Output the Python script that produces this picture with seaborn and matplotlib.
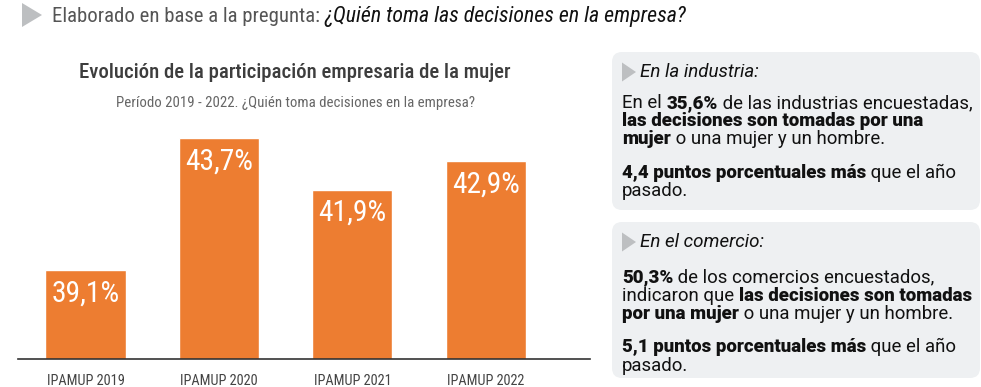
import matplotlib
matplotlib.use("Agg")
import matplotlib.pyplot as plt
import seaborn as sns
from matplotlib import font_manager
from matplotlib.patches import FancyBboxPatch, Polygon

# ---- data ----
categories = ["IPAMUP 2019", "IPAMUP 2020", "IPAMUP 2021", "IPAMUP 2022"]
values = [39.1, 43.7, 41.9, 42.9]

header_plain = "Elaborado en base a la pregunta: "
header_italic = "¿Quién toma las decisiones en la empresa?"
title = "Evolución de la participación empresaria de la mujer"
subtitle = "Período 2019 - 2022. ¿Quién toma decisiones en la empresa?"

industria_head = "En la industria:"
industria_lines = [
    [("En el ", "normal"), ("35,6%", "heavy"), (" de las industrias encuestadas,", "normal")],
    [("las decisiones son tomadas por una", "heavy")],
    [("mujer", "heavy"), (" o una mujer y un hombre.", "normal")],
    [("4,4 puntos porcentuales más", "heavy"), (" que el año", "normal")],
    [("pasado.", "normal")],
]

comercio_head = "En el comercio:"
comercio_lines = [
    [("50,3%", "heavy"), (" de los comercios encuestados,", "normal")],
    [("indicaron que ", "normal"), ("las decisiones son tomadas", "heavy")],
    [("por una mujer", "heavy"), (" o una mujer y un hombre.", "normal")],
    [("5,1 puntos porcentuales más", "heavy"), (" que el año", "normal")],
    [("pasado.", "normal")],
]

ORANGE = "#ED7D31"
BOX = "#EEF0F2"
ARROW = "#BDBFC1"

sns.set_style("white")
installed = {f.name for f in font_manager.fontManager.ttflist}
condensed = {f.name for f in font_manager.fontManager.ttflist
             if str(f.stretch) in ("condensed", "semi-condensed", "extra-condensed")}
NARROW = "Roboto"
STRETCH = "normal"
for cand in ["Roboto Condensed", "Liberation Sans Narrow", "Open Sans Condensed"]:
    if cand in installed:
        NARROW = cand
        break
else:
    for cand in ["Roboto", "Open Sans", "DejaVu Sans", "Noto Sans"]:
        if cand in condensed:
            NARROW, STRETCH = cand, "condensed"
            break
NARROW_F = [NARROW, "DejaVu Sans"]
BODY = ["Roboto", "DejaVu Sans"]
plt.rcParams["font.family"] = NARROW_F
plt.rcParams["font.stretch"] = STRETCH

fig = plt.figure(figsize=(9.81, 3.87), dpi=100)

# overlay in pixel coordinates for the text panels
ov = fig.add_axes([0, 0, 1, 1], zorder=0)
ov.set_xlim(0, 981)
ov.set_ylim(387, 0)
ov.set_axis_off()

renderer = fig.canvas.get_renderer()


def fit(t, width):
    # shrink/grow a text so that it spans the width
    w = t.get_window_extent(renderer).width
    t.set_fontsize(t.get_fontsize() * width / w)


def rich_line(x, y, parts, size, family, color="#111111", style="normal"):
    for s, w in parts:
        t = ov.text(x, y, s, fontsize=size, fontweight=w, family=family,
                    color=color, style=style, va="baseline", ha="left")
        x += t.get_window_extent(renderer).width
    return x


def arrow(x, y, w, h):
    ov.add_patch(Polygon([(x, y - h / 2), (x, y + h / 2), (x + w, y)],
                         closed=True, color=ARROW, lw=0))


# header
arrow(22, 15, 20, 24)
h1 = ov.text(52, 22, header_plain, fontsize=14.5, family=NARROW_F,
             color="#555555", va="baseline")
fit(h1, 272)
h2 = ov.text(52 + 272, 22, header_italic, fontsize=14.5, family=NARROW_F,
             style="italic", color="#111111", va="baseline")
fit(h2, 363)

# chart title
t1 = ov.text(295, 73, title, fontsize=17, fontweight="medium", family=NARROW_F,
             color="#3d3d3d", ha="center", va="center")
fit(t1, 434)
t2 = ov.text(295, 103, subtitle, fontsize=10.5, family=NARROW_F,
             color="#666666", ha="center", va="center")
fit(t2, 362)

# side panels
panels = [
    (52, 158, 72, industria_head, industria_lines, [108, 126, 144, 178, 196]),
    (222, 156, 242, comercio_head, comercio_lines, [282, 301, 319, 352, 371]),
]
for top, height, head_y, head, lines, ys in panels:
    ov.add_patch(FancyBboxPatch((612, top), 368, height,
                                boxstyle="round,pad=0,rounding_size=10",
                                fc=BOX, ec="none"))
    arrow(622, head_y, 14, 19)
    ov.text(640, head_y, head, fontsize=13.5, family=BODY, style="italic",
            color="#111111", va="center")
    for parts, y in zip(lines, ys):
        rich_line(622, y, parts, 13.4, BODY)

# bar chart
ax = fig.add_axes([18 / 981, 28 / 387, 572 / 981, 239 / 387], zorder=1)
ax.patch.set_alpha(0)
sns.barplot(x=categories, y=values, color=ORANGE, width=0.6, saturation=1,
            ax=ax)
ax.set_ylim(36, 36 + 239 / 28.7)
ax.set_xlim(-0.506, 3.78)
for i, v in enumerate(values):
    lab = ax.text(i, v - 0.32, f"{v:.1f}".replace(".", ",") + "%", ha="center",
                  va="top", color="white", fontsize=23, family=NARROW_F)
    w = lab.get_window_extent(renderer).width
    if w > 68:
        lab.set_fontsize(23 * 68 / w)
sns.despine(ax=ax, left=True)
ax.spines["bottom"].set_color("#333333")
ax.spines["bottom"].set_linewidth(1.2)
ax.set_yticks([])
ax.set_xlabel("")
ax.set_ylabel("")
ax.tick_params(axis="x", length=0, pad=11, labelsize=11, labelcolor="#444444")
for lbl in ax.get_xticklabels():
    w = lbl.get_window_extent(renderer).width
    if w > 78:
        lbl.set_fontsize(11 * 78 / w)

fig.savefig("out.png", dpi=100)
